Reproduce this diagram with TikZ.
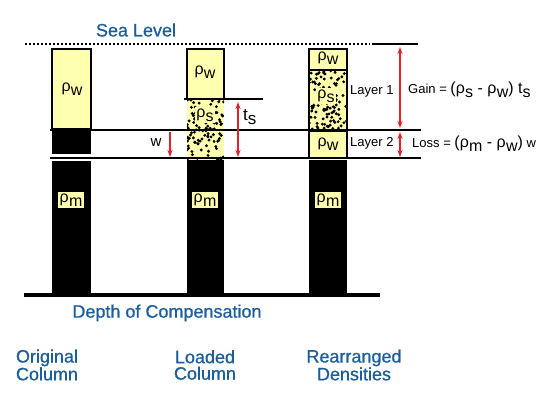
\documentclass[tikz,border=0pt]{standalone}
\usepackage{fontspec}
\setmainfont{Liberation Sans}
\newfontfamily\titlefont{Liberation Sans}[FakeBold=0.7]
\usetikzlibrary{arrows.meta}

\definecolor{seablue}{HTML}{1B5E9B}
\definecolor{paleyellow}{HTML}{FFFFB0}
\definecolor{arrowred}{HTML}{E3202B}

\newcommand{\dens}[1]{ρ\kern0.3pt\raisebox{-0.45ex}{#1}}
\newcommand{\bigfont}{\fontsize{16}{16}\selectfont}

\begin{document}
\begin{tikzpicture}[x=1pt,y=-1pt]
    \tikzset{
        waterbox/.style={fill=paleyellow, draw=black, line width=1.2pt},
        mantlebox/.style={fill=black},
        levelline/.style={line width=2.8pt, black},
        denslabel/.style={font=\bigfont, inner sep=1.5pt},
        mantlelabel/.style={denslabel, fill=paleyellow},
        bluetext/.style={font=\titlefont\fontsize{18}{16.5}\selectfont, text=seablue, align=center},
        sidetext/.style={font=\fontsize{13}{13}\selectfont, anchor=west, inner sep=0pt},
        redarrow/.style={arrowred, line width=1.4pt, -{Stealth[length=7pt,width=5pt]}},
        reddouble/.style={arrowred, line width=1.4pt, {Stealth[length=7pt,width=5pt]}-{Stealth[length=7pt,width=5pt]}}
    }
    \useasboundingbox (0,0) rectangle (550,400);

    % --- sea level ---
    \draw[line width=2.8pt, dash pattern=on 2.4pt off 1.6pt] (25,44) -- (370,44);
    \draw[levelline] (372,44) -- (418,44);
    \node[bluetext] (sealevel) at (136,30) {Sea Level};

    % --- ORIGINAL COLUMN ---
    \fill[mantlebox] (52,131) rectangle (91,154);
    \fill[mantlebox] (52,161) rectangle (91,295);
    \draw[waterbox] (52,49) rectangle (91,129);
    \node[denslabel] (origw) at (72,89) {\dens{w}};
    \node[mantlelabel] (origm) at (71,200) {\dens{m}};

    % --- LOADED COLUMN ---
    \fill[mantlebox] (187,160) rectangle (224,295);
    \begin{scope}
        \clip (187,99) rectangle (224,160);
        \fill[paleyellow] (187,99) rectangle (224,160);
        \pgfmathsetseed{11}
        \foreach \i in {1,...,105} {
            \fill (187+37*rnd, 99+61*rnd) circle (1.6pt);
        }
    \end{scope}
    \draw[waterbox] (187,49) rectangle (224,99);
    \node[denslabel] (loadw) at (205,72) {\dens{w}};
    \node[mantlelabel] (loads) at (205,115) {\dens{s}};
    \node[mantlelabel] (loadm) at (205,200) {\dens{m}};
    \draw[levelline] (184,99) -- (263,99);

    % --- REARRANGED DENSITIES ---
    \fill[mantlebox] (309,160) rectangle (347,295);
    \begin{scope}
        \clip (309,70) rectangle (347,129);
        \fill[paleyellow] (309,70) rectangle (347,129);
        \pgfmathsetseed{5}
        \foreach \i in {1,...,100} {
            \fill (309+38*rnd, 70+59*rnd) circle (1.6pt);
        }
    \end{scope}
    \draw[waterbox] (309,49) rectangle (347,70);
    \draw[waterbox] (309,131) rectangle (347,158);
    \draw[line width=1.2pt] (309,70) -- (309,129) (347,70) -- (347,129);
    \node[denslabel] (rearw) at (328,58) {\dens{w}};
    \node[mantlelabel] (rears) at (326,96) {\dens{s}};
    \node[denslabel] (rearw2) at (328,144) {\dens{w}};
    \node[mantlelabel] (rearm) at (328,200) {\dens{m}};

    % --- niveaux ---
    \draw[levelline] (50,130) -- (421,130);
    \draw[levelline] (50,158) -- (421,158);
    \draw[line width=3.2pt] (24,295) -- (380,295);
    \node[bluetext] (depth) at (167,313) {Depth of Compensation};

    % --- fleches ---
    \coordinate (wtop) at (170,132);
    \coordinate (wbot) at (170,157);
    \draw[redarrow] (wtop) -- (wbot);
    \node[font=\fontsize{15}{15}\selectfont, inner sep=0pt] (wlabel) at (156,143) {w};

    \coordinate (tstop) at (238,102);
    \coordinate (tsbot) at (238,157);
    \draw[reddouble] (tstop) -- (tsbot);
    \node[font=\fontsize{17}{17}\selectfont, anchor=west, inner sep=0pt] (tslabel) at (243,117) {t\raisebox{-0.45ex}{s}};

    \coordinate (gaintop) at (400,47);
    \coordinate (gainbot) at (400,128);
    \coordinate (losstop) at (400,132);
    \coordinate (lossbot) at (400,157);
    \draw[reddouble] (gaintop) -- (gainbot);
    \draw[reddouble] (losstop) -- (lossbot);

    \node[sidetext] (layer1) at (350,91) {Layer 1};
    \node[sidetext] (layer2) at (350,143) {Layer 2};
    \node[sidetext] (gain) at (408,90) {Gain = {\bigfont(\dens{s} - \dens{w}) t\raisebox{-0.45ex}{s}}};
    \node[sidetext] (loss) at (412,144) {Loss = {\bigfont(\dens{m} - \dens{w})} w};

    % --- titres ---
    \node[bluetext] (orig) at (47,365) {Original\\Column};
    \node[bluetext] (loaded) at (205,365) {Loaded\\Column};
    \node[bluetext] (rear) at (354,365) {Rearranged\\Densities};
\end{tikzpicture}
\end{document}
